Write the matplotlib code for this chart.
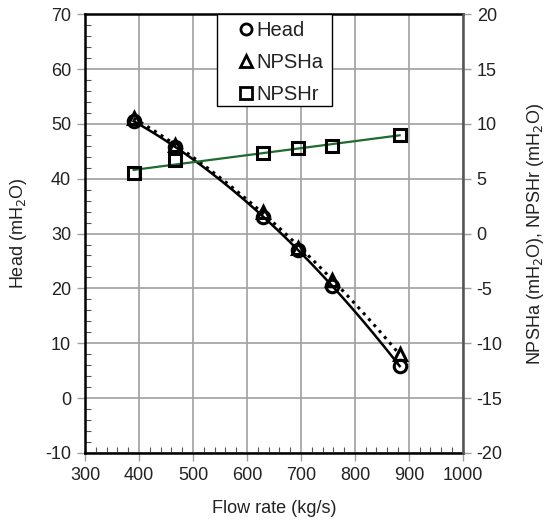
import numpy as np
import matplotlib
matplotlib.use("Agg")
import matplotlib.pyplot as plt
from matplotlib.ticker import MultipleLocator
from matplotlib.lines import Line2D
from matplotlib.patches import Rectangle

plt.rcParams['font.family'] = ['Liberation Sans', 'DejaVu Sans']
plt.rcParams['axes.unicode_minus'] = False

flow = [390, 467, 630, 695, 758, 883]
head = [50.5, 45.8, 33.0, 27.0, 20.5, 5.8]
npsha = [10.5, 8.1, 2.0, -1.3, -4.2, -11.0]
npshr = [5.5, 6.7, 7.3, 7.8, 8.0, 9.0]

fig = plt.figure(figsize=(5.49, 5.26), dpi=100)
ax = fig.add_axes([0.155, 0.139, 0.688, 0.834])
ax2 = ax.twinx()

fs = 13
grid_c = '#a0a0a0'

ax.set_xlim(300, 1000)
ax.set_ylim(-10, 70)
ax2.set_ylim(-20, 20)
ax.xaxis.set_major_locator(MultipleLocator(100))
ax.xaxis.set_minor_locator(MultipleLocator(20))
ax.yaxis.set_major_locator(MultipleLocator(10))
ax.yaxis.set_minor_locator(MultipleLocator(2))
ax2.yaxis.set_major_locator(MultipleLocator(5))
ax.grid(True, which='major', color=grid_c, lw=1.2)
ax.set_axisbelow(True)

ax.tick_params(which='major', direction='out', length=6, width=1, color=grid_c, labelsize=fs, labelcolor='#222222', pad=4)
ax.tick_params(which='minor', direction='in', length=4, width=0.8, color='#555555')
ax2.tick_params(which='major', direction='out', length=6, width=1, color=grid_c, labelsize=fs, labelcolor='#222222', pad=4)

for s in ['left', 'bottom', 'top']:
    ax.spines[s].set_color('black')
    ax.spines[s].set_linewidth(1.8)
ax2.spines['right'].set_color('#555555')
ax2.spines['right'].set_linewidth(1.8)
for s in ['left', 'bottom', 'top']:
    ax2.spines[s].set_visible(False)

fx = np.array(flow, float)
xs = np.linspace(fx.min(), fx.max(), 200)

# Head: solid curve
ph = np.polyfit(fx, head, 2)
ax.plot(xs, np.polyval(ph, xs), color='black', lw=1.8, zorder=3)
ax.plot(flow, head, 'o', ms=9, mfc='none', mec='black', mew=2.2, zorder=4)

# NPSHa: dotted curve
pa = np.polyfit(fx, npsha, 2)
ax2.plot(xs, np.polyval(pa, xs), color='black', lw=2.2, ls=(0, (1, 1.6)), zorder=3)
ax2.plot(flow, npsha, '^', ms=9, mfc='none', mec='black', mew=2.2, zorder=4)

# NPSHr: linear trend, green
pr = np.polyfit(fx, npshr, 1)
ax2.plot(xs, np.polyval(pr, xs), color='#1f6b2e', lw=1.6, zorder=3)
ax2.plot(flow, npshr, 's', ms=9, mfc='none', mec='black', mew=2.2, zorder=4)

ax.set_xlabel('Flow rate (kg/s)', fontsize=fs, color='#222222', labelpad=12)
ax.set_ylabel('Head (mH$_2$O)', fontsize=fs, color='#222222', labelpad=12)
ax2.set_ylabel('NPSHa (mH$_2$O), NPSHr (mH$_2$O)', fontsize=fs, color='#222222', labelpad=16)

# legend frame
ax2.add_patch(Rectangle((0.349, 0.790), 0.304, 0.21, transform=ax2.transAxes,
                        facecolor='white', edgecolor='black', lw=1.0, zorder=5, clip_on=False))

lfs = 14.5
handles = [Line2D([], [], ls='none', marker='o', ms=8, mfc='none', mec='black', mew=2),
           Line2D([], [], ls='none', marker='^', ms=8, mfc='none', mec='black', mew=2),
           Line2D([], [], ls='none', marker='s', ms=8, mfc='none', mec='black', mew=2)]
leg = ax2.legend(handles, ['Head', 'NPSHa', 'NPSHr'], loc='upper left',
                 bbox_to_anchor=(0.349, 1.0), fontsize=lfs, frameon=False,
                 handlelength=2.2, handletextpad=-0.55, borderpad=0.33, labelspacing=0.66,
                 borderaxespad=0)
leg.set_zorder(6)
for t in leg.get_texts():
    t.set_color('#222222')

fig.savefig('out.png', dpi=100)
